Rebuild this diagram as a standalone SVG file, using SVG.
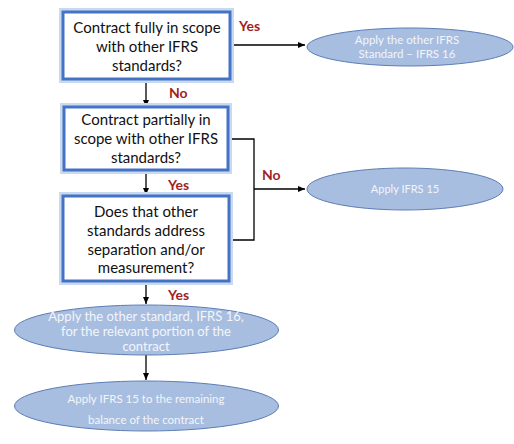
<svg xmlns="http://www.w3.org/2000/svg" width="514" height="444" viewBox="0 0 514 444">
<defs>
<marker id="ah" markerWidth="8" markerHeight="8" refX="7" refY="4" orient="auto" markerUnits="userSpaceOnUse">
<path d="M0,1 L7,4 L0,7 Z" fill="#000"/>
</marker>
<style>
.glow{fill:none;stroke:#C9DAF0;stroke-width:8}
.box{fill:#fff;stroke:#4472C4;stroke-width:3}
.bt{font-family:Lato,"Liberation Sans",sans-serif;font-size:15px;fill:#111;text-anchor:middle}
.ell{fill:#A8BEE0;stroke:#5B7DB5;stroke-width:1}
.et{font-family:Lato,"Liberation Sans",sans-serif;font-size:12px;fill:#F2F5FA;text-anchor:middle}
.lbl{font-family:Lato,"Liberation Sans",sans-serif;font-size:14px;font-weight:bold;fill:#A31F1F}
.c{fill:none;stroke:#000;stroke-width:1.3}
</style>
</defs>
<rect width="514" height="444" fill="#fff"/>
<g id="connectors">
<path class="c" d="M230,45 H305" marker-end="url(#ah)"/>
<path class="c" d="M146,80 V107" marker-end="url(#ah)"/>
<path class="c" d="M228,139 H254 V240 H229"/>
<path class="c" d="M254,189 H305" marker-end="url(#ah)"/>
<path class="c" d="M146,171 V195" marker-end="url(#ah)"/>
<path class="c" d="M146,282 V304" marker-end="url(#ah)"/>
<path class="c" d="M146,355 V380" marker-end="url(#ah)"/>
<text class="lbl" x="239" y="31">Yes</text>
<text class="lbl" x="169" y="98">No</text>
<text class="lbl" x="262" y="180">No</text>
<text class="lbl" x="168" y="190">Yes</text>
<text class="lbl" x="168" y="300">Yes</text>
</g>
<g id="q1">
<rect class="glow" x="63" y="12" width="167" height="67"/>
<rect class="box" x="63" y="12" width="167" height="67"/>
<text class="bt" x="147" y="33">Contract fully in scope</text>
<text class="bt" x="147" y="52">with other IFRS</text>
<text class="bt" x="147" y="71">standards?</text>
</g>
<g id="q2">
<rect class="glow" x="64" y="107" width="164" height="63"/>
<rect class="box" x="64" y="107" width="164" height="63"/>
<text class="bt" x="146" y="125">Contract partially in</text>
<text class="bt" x="146" y="144">scope with other IFRS</text>
<text class="bt" x="146" y="163">standards?</text>
</g>
<g id="q3">
<rect class="glow" x="63" y="196" width="166" height="85"/>
<rect class="box" x="63" y="196" width="166" height="85"/>
<text class="bt" x="146" y="217">Does that other</text>
<text class="bt" x="146" y="236">standards address</text>
<text class="bt" x="146" y="255">separation and/or</text>
<text class="bt" x="146" y="273">measurement?</text>
</g>
<g id="e1">
<ellipse class="ell" cx="410" cy="47" rx="103" ry="19"/>
<text class="et" x="407" y="44" style="font-size:11.5px">Apply the other IFRS</text>
<text class="et" x="407" y="58" style="font-size:11.5px">Standard – IFRS 16</text>
</g>
<g id="e2">
<ellipse class="ell" cx="405" cy="189" rx="98" ry="21"/>
<text class="et" x="405" y="193" style="font-size:11px">Apply IFRS 15</text>
</g>
<g id="e3">
<ellipse class="ell" cx="146.5" cy="330" rx="132" ry="25"/>
<text class="et" x="146" y="321" style="font-size:13px">Apply the other standard, IFRS 16,</text>
<text class="et" x="146" y="336" style="font-size:13px">for the relevant portion of the</text>
<text class="et" x="146" y="351" style="font-size:13px">contract</text>
</g>
<g id="e4">
<ellipse class="ell" cx="146.5" cy="406" rx="132" ry="25"/>
<text class="et" x="146" y="403" style="font-size:11.5px">Apply IFRS 15 to the remaining</text>
<text class="et" x="146" y="424" style="font-size:11.5px">balance of the contract</text>
</g>
</svg>
